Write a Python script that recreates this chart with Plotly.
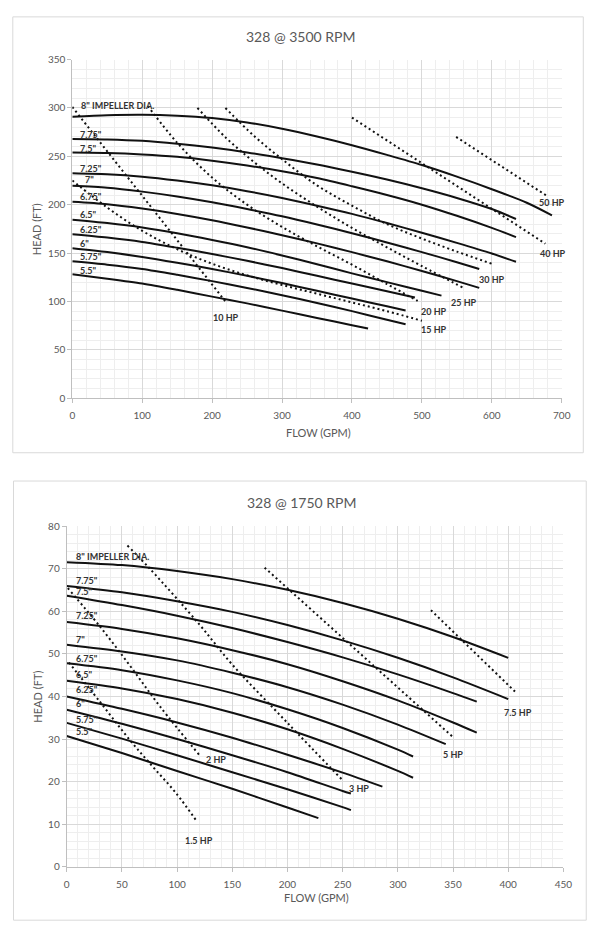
import plotly.graph_objects as go

W, H = 607, 939

# ---------------- 328 @ 3500 RPM ----------------
dia_labels = ['8" IMPELLER DIA.', '7.75"', '7.5"', '7.25"', '7"', '6.75"', '6.5"', '6.25"', '6"', '5.75"', '5.5"']

q_grid_3500 = [0, 50, 100, 150, 200, 250, 300, 350, 400, 450, 500, 550, 600, 650]
q_end_3500 = [686, 634.6, 634.6, 634.6, 582, 582, 528, 490, 476.7, 476.7, 423]
h_3500_800 = [291, 292.5, 293, 292, 289.5, 285, 278.5, 270.5, 261.5, 251.5, 241, 229, 216, 202, 189]
h_3500_775 = [268, 267.5, 266, 263, 259, 254, 248, 241.5, 234, 226, 217, 207, 195.5, 185.2]
h_3500_750 = [254, 253.5, 252, 249.5, 245.5, 240.5, 234.5, 227.5, 219, 210, 200, 188.5, 176, 166.5]
h_3500_725 = [232.5, 231.5, 229, 225, 220, 214, 207, 199, 190.5, 181, 171, 160.5, 149.5, 141]
h_3500_700 = [219.5, 217.5, 213.5, 208.5, 202.5, 195.5, 188, 179.5, 170.5, 161, 151, 140.5, 133.5]
h_3500_675 = [203, 200.5, 196, 190.5, 184, 176.5, 168.5, 160, 151, 141.5, 131.5, 121, 114]
h_3500_650 = [184.5, 181, 176.5, 170.5, 163.5, 156, 147.5, 138.5, 129, 120, 111, 106]
h_3500_625 = [169.5, 166, 161.5, 155.5, 149, 142, 134.5, 126.5, 118.5, 110.5, 104]
h_3500_600 = [155, 151, 146, 140, 133.5, 126.5, 119, 111, 103, 95, 90.7]
h_3500_575 = [141.5, 138, 133.5, 127.5, 121, 114, 106.5, 98.5, 90, 81, 76.4]
h_3500_550 = [128, 123.5, 118.5, 112, 105, 98, 90.5, 83, 75.5, 72]
heads_3500 = [h_3500_800, h_3500_775, h_3500_750, h_3500_725, h_3500_700, h_3500_675,
              h_3500_650, h_3500_625, h_3500_600, h_3500_575, h_3500_550]
lab_q_3500 = [9, 8, 8, 8, 15, 8, 8, 8, 8, 8, 8]
lab_h_3500 = [302.4, 273, 258.5, 237.5, 226, 208.5, 189.5, 174.5, 159.5, 146, 132.5]

hp_labels_3500 = ['10 HP', '15 HP', '20 HP', '25 HP', '30 HP', '40 HP', '50 HP']
hp_q_3500 = [
    [0, 219],
    [0, 50, 100, 150, 200, 250, 300, 350, 400, 450, 500],
    [108, 150, 200, 250, 300, 350, 400, 450, 494],
    [179, 220, 260, 300, 350, 400, 450, 500, 559.5],
    [219, 260, 300, 350, 400, 450, 500, 550, 600],
    [400, 676.6],
    [549, 679],
]
hp_h_3500 = [
    [301, 100],
    [225, 197, 173, 154, 139, 127, 117, 108, 99, 90, 80],
    [302, 264, 228, 200, 177, 157, 138, 118, 100.5],
    [300, 269, 244, 222, 198, 176, 156, 136.5, 114],
    [300, 271, 247, 220, 199, 180, 165, 151.5, 139],
    [290, 159.7],
    [270, 209],
]
hp_lab_q_3500 = [220, 517, 517, 560, 600, 688, 686]
hp_lab_h_3500 = [83, 71, 89.5, 98.5, 123, 150, 202]

# ---------------- 328 @ 1750 RPM ----------------
q_grid_1750 = [0, 50, 100, 150, 200, 250, 300, 350, 400]
q_end_1750 = [400, 400, 371.5, 371.5, 343.4, 313.8, 313.8, 286, 257.5, 257.5, 228]
h_1750_800 = [71.6, 70.9, 69.5, 67.6, 65.1, 62.0, 58.3, 54.0, 49.1]
h_1750_775 = [66, 64.5, 62.4, 59.9, 56.8, 53.2, 49.1, 44.5, 39.4]
h_1750_750 = [63.7, 61.5, 59.0, 56.1, 52.8, 49.2, 45.2, 40.8, 38.8]
h_1750_725 = [57.5, 55.9, 53.7, 50.9, 47.6, 43.6, 39.1, 33.9, 31.5]
h_1750_700 = [52.2, 50.6, 48.5, 45.6, 42.2, 38.1, 33.4, 28.8]
h_1750_675 = [47.8, 46.2, 43.8, 40.8, 37.0, 32.6, 27.5, 25.9]
h_1750_650 = [43.7, 41.9, 39.4, 36.2, 32.3, 27.7, 22.5, 20.9]
h_1750_625 = [40, 37.1, 33.9, 30.3, 26.3, 22.1, 18.8]
h_1750_600 = [36.9, 33.6, 30.0, 26.2, 22.2, 17.8, 17.2]
h_1750_575 = [33.8, 30.1, 26.2, 22.2, 18.2, 14.0, 13.3]
h_1750_550 = [30.7, 26.7, 22.5, 18.3, 13.9, 11.4]
heads_1750 = [h_1750_800, h_1750_775, h_1750_750, h_1750_725, h_1750_700, h_1750_675,
              h_1750_650, h_1750_625, h_1750_600, h_1750_575, h_1750_550]
lab_q_1750 = [7, 7, 7, 7, 7, 7, 7, 7, 7, 7, 7]
lab_h_1750 = [73.0, 67.2, 64.8, 59.1, 53.3, 48.9, 45.2, 41.7, 38.3, 34.6, 31.7]

hp_labels_1750 = ['1.5 HP', '2 HP', '3 HP', '5 HP', '7.5 HP']
hp_q_1750 = [
    [2, 30, 58, 78, 99, 118],
    [1, 30, 58, 85, 120],
    [55, 75.5, 120, 150, 200, 250],
    [179.3, 350.2],
    [330, 407.6],
]
hp_h_1750 = [
    [48, 38.8, 29.5, 23.5, 17.3, 10.6],
    [65.5, 56.5, 47, 37.5, 26.3],
    [75.5, 70, 57, 47.5, 33.8, 20.3],
    [70.3, 30.4],
    [60.3, 40.8],
]
hp_lab_q_1750 = [119.6, 135, 264.5, 349.6, 409]
hp_lab_h_1750 = [6.2, 25.3, 18.3, 26.3, 36.3]

FONT = "Lato"
TXT = "#595959"
LAB = "#333333"

fig = go.Figure()
annotations = []


def add_chart(xa, ya, q_grid, q_end, heads, lab_q, lab_h, hp_q, hp_h, hp_labels, hp_lab_q, hp_lab_h):
    for i, hs in enumerate(heads):
        qs = [q for q in q_grid if q < q_end[i]] + [q_end[i]]
        fig.add_trace(go.Scatter(x=qs, y=hs, xaxis=xa, yaxis=ya, mode="lines",
                                 line=dict(color="#111111", width=2, shape="spline", smoothing=0.8),
                                 hoverinfo="skip", showlegend=False))
        annotations.append(dict(x=lab_q[i], y=lab_h[i], xref=xa, yref=ya, text="<b>" + dia_labels[i] + "</b>",
                                showarrow=False, xanchor="left", yanchor="middle",
                                font=dict(family=FONT, size=9, color=LAB)))
    for i, qs in enumerate(hp_q):
        fig.add_trace(go.Scatter(x=qs, y=hp_h[i], xaxis=xa, yaxis=ya, mode="lines",
                                 line=dict(color="#111111", width=2, dash="2px,3px", shape="spline"),
                                 hoverinfo="skip", showlegend=False))
        annotations.append(dict(x=hp_lab_q[i], y=hp_lab_h[i], xref=xa, yref=ya, text="<b>" + hp_labels[i] + "</b>",
                                showarrow=False, xanchor="center", yanchor="middle",
                                font=dict(family=FONT, size=9, color=LAB)))


add_chart("x", "y", q_grid_3500, q_end_3500, heads_3500, lab_q_3500, lab_h_3500,
          hp_q_3500, hp_h_3500, hp_labels_3500, hp_lab_q_3500, hp_lab_h_3500)
add_chart("x2", "y2", q_grid_1750, q_end_1750, heads_1750, lab_q_1750, lab_h_1750,
          hp_q_1750, hp_h_1750, hp_labels_1750, hp_lab_q_1750, hp_lab_h_1750)


def px(x):
    return x / W


def py(y):
    return 1 - y / H


def axis(domain, rng, dtick, minor, anchor):
    return dict(domain=domain, range=rng, dtick=dtick, tick0=0, anchor=anchor,
                showgrid=True, gridcolor="#d9d9d9", gridwidth=1,
                minor=dict(dtick=minor, tick0=0, showgrid=True, gridcolor="#eeeeee", gridwidth=1),
                showline=True, linecolor="#bfbfbf", linewidth=1,
                ticks="outside", ticklen=4, tickcolor="#bfbfbf",
                zeroline=False, fixedrange=True,
                tickfont=dict(family=FONT, size=10, color=TXT))


xa1 = axis([px(70.7), px(570)], [0, 700], 100, 20, "y")
ya1 = axis([py(396.7), py(53.3)], [0, 350], 50, 10, "x")
xa2 = axis([px(65), px(571.7)], [0, 450], 50, 10, "y2")
ya2 = axis([py(871.7), py(526.7)], [0, 80], 10, 2, "x2")
xa1["ticklabelstandoff"] = 4
xa2["ticklabelstandoff"] = 4

# titles and axis titles
for txt, x, y, size in [
    ("328 @ 3500 RPM", 304, 30, 14),
    ("328 @ 1750 RPM", 305, 502, 14),
    ("FLOW (GPM)", 322, 431, 11),
    ("FLOW (GPM)", 320, 903, 11),
]:
    annotations.append(dict(x=px(x), y=py(y), xref="paper", yref="paper", text=txt, showarrow=False,
                            xanchor="center", yanchor="middle",
                            font=dict(family=FONT, size=size, color=TXT)))
for y in [225, 699]:
    annotations.append(dict(x=px(35), y=py(y), xref="paper", yref="paper", text="HEAD (FT)",
                            showarrow=False, textangle=-90, xanchor="center", yanchor="middle",
                            font=dict(family=FONT, size=11, color=TXT)))

shapes = [
    dict(type="rect", xref="paper", yref="paper", x0=px(10), x1=px(592), y0=py(452), y1=py(10),
         line=dict(color="#d9d9d9", width=1)),
    dict(type="rect", xref="paper", yref="paper", x0=px(10.7), x1=px(595), y0=py(926), y1=py(480.7),
         line=dict(color="#d9d9d9", width=1)),
]

fig.update_layout(
    width=W, height=H, margin=dict(l=0, r=0, t=0, b=0),
    paper_bgcolor="white", plot_bgcolor="white",
    xaxis=xa1, yaxis=ya1, xaxis2=xa2, yaxis2=ya2,
    annotations=annotations, shapes=shapes, showlegend=False,
)

fig.write_html("out.html")
